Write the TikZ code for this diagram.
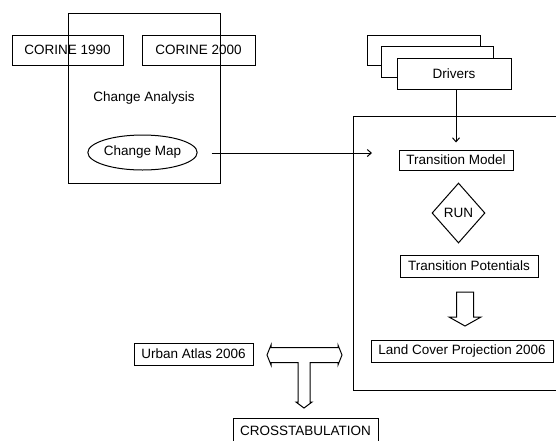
\documentclass[tikz,border=0pt]{standalone}
\usepackage{fontspec}
\setmainfont{Liberation Sans}
\usetikzlibrary{shapes.geometric,arrows.meta,positioning}
\begin{document}
\begin{tikzpicture}[x=1pt,y=-1pt,
  every node/.style={font=\fontsize{13.5pt}{16pt}\selectfont, inner sep=0pt},
  box/.style={draw, line width=1pt, rectangle},
  wbox/.style={box, fill=white},
  arr/.style={line width=1pt, -{Straight Barb[length=4pt,width=7pt]}},
  blk/.style={draw, line width=1pt, fill=white, line join=miter}]
\useasboundingbox (0,0) rectangle (556,440);
% change analysis
\node[box, minimum width=152pt, minimum height=170pt] (ca) at (144,98) {Change Analysis};
\node[box, minimum width=111pt, minimum height=30pt] (c1990) at (67.5,50) {CORINE 1990};
\node[box, minimum width=113pt, minimum height=30pt] (c2000) at (198.5,50) {CORINE 2000};
\node[draw, line width=1pt, ellipse, minimum width=101pt, minimum height=35pt] (cmap) at (142.5,152.5) {Change Map};
% model box
\node[box, minimum width=209pt, minimum height=274pt] (model) at (457.5,253) {};
% drivers stack
\node[box, minimum width=113pt, minimum height=30pt] (drv3) at (423.5,50) {};
\node[wbox, minimum width=112pt, minimum height=31pt] (drv2) at (437,61.5) {};
\node[wbox, minimum width=114pt, minimum height=31pt] (drivers) at (454,73.5) {Drivers};
\node[box, minimum width=114pt, minimum height=20pt] (tm) at (456,160) {Transition Model};
\node[draw, line width=1pt, diamond, minimum width=53pt, minimum height=60pt] (run) at (458.5,213) {RUN};
\node[box, minimum width=138pt, minimum height=22pt] (tp) at (469,266) {Transition Potentials};
\node[box, minimum width=182pt, minimum height=22pt] (lcp) at (462,351) {Land Cover Projection 2006};
\node[box, minimum width=119pt, minimum height=22pt] (ua) at (193.5,354) {Urban Atlas 2006};
\node[box, minimum width=145pt, minimum height=26pt] (cross) at (305.5,431) {CROSSTABULATION};
% connectors
\coordinate (mapend) at (372,153);
\draw[arr, shorten <=14pt] (cmap.east |- mapend) -- (mapend);
\draw[arr, shorten >=7pt] (drivers.south -| tm.north) -- (tm.north);
% block arrow down between tp and lcp
\draw[blk] (456.5,292) -- (473.5,292) -- (473.5,317) -- (481,317) -- (465,326)
  -- (449,317) -- (456.5,317) -- cycle;
% T-shaped double block arrow
\draw[blk] (267,355) -- (271,345) -- (271,347.5) -- (338,347.5) -- (338,345)
  -- (342,355) -- (338,365) -- (338,362.5) -- (310,362.5) -- (310,402)
  -- (312,402) -- (304,408) -- (296,402) -- (298,402) -- (298,362.5)
  -- (271,362.5) -- (271,365) -- cycle;
\end{tikzpicture}
\end{document}
